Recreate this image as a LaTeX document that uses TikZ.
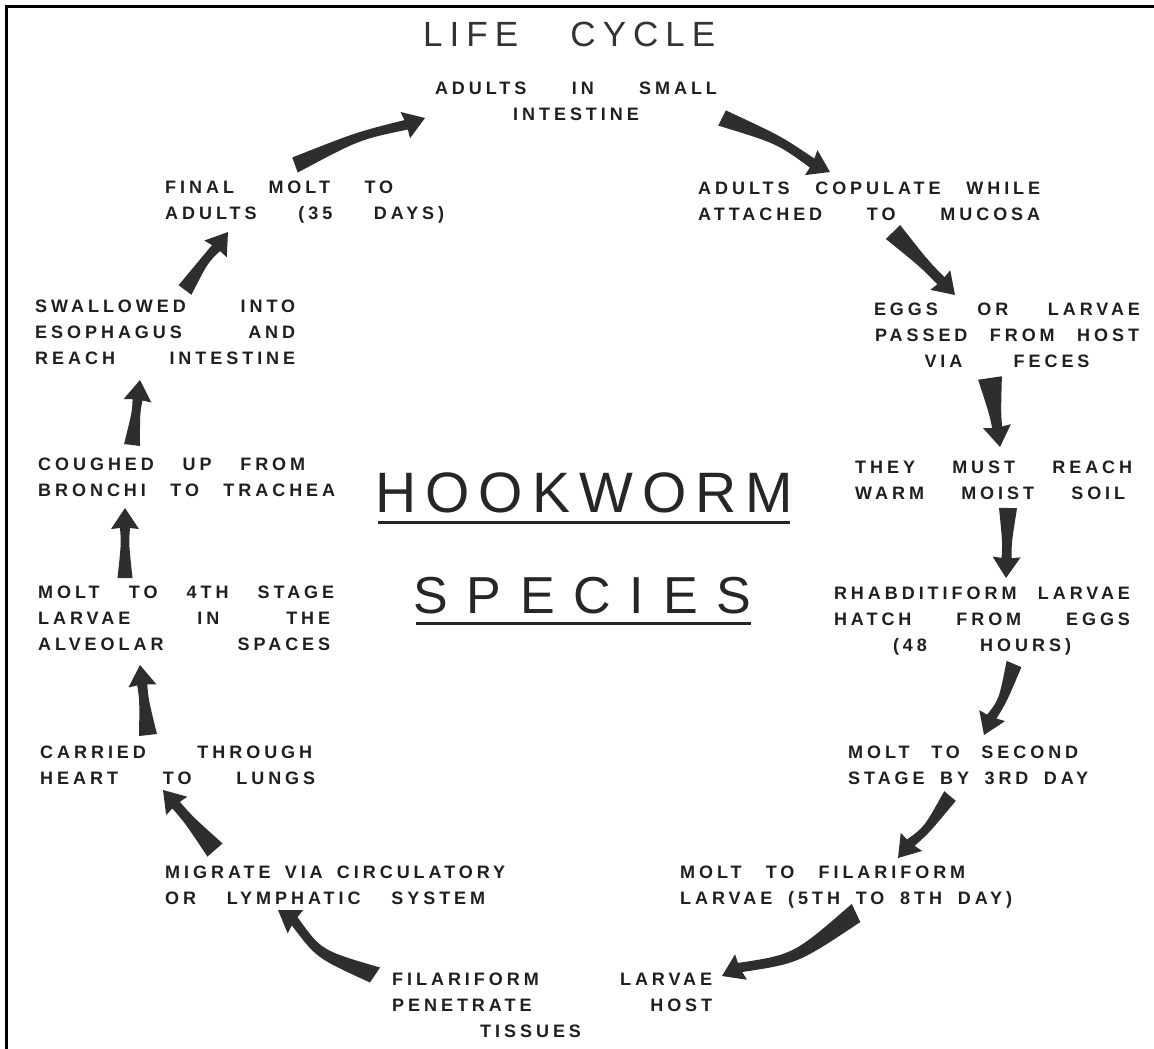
\documentclass[tikz,border=0pt]{standalone}
\usepackage{fontspec}
\setmainfont{Liberation Sans}
\newfontfamily\hand[LetterSpace=22]{Liberation Sans}
\newfontfamily\titlef[LetterSpace=20]{Liberation Sans}
\usetikzlibrary{calc}
\newcommand\jl[2]{\makebox[#1pt][s]{#2}}
\newcommand\harrow[4]{%
  \path let \p1=(#1),\p2=(#2) in \pgfextra{%
    \pgfmathsetmacro\tmpA{atan2(\y2-\y1,\x2-\x1)}%
    \pgfmathsetmacro\tmpL{veclen(\x2-\x1,\y2-\y1)}%
    \xdef\gAng{\tmpA}\xdef\gLen{\tmpL}};%
  \begin{scope}[shift={(#1)},rotate=\gAng]
    \fill[arrowfill] (0pt,{#3*0.5pt})
      .. controls ({\gLen*0.5pt},{#4*2pt+#3*0.25pt}) .. ({\gLen*1pt-20pt},5pt)
      -- ({\gLen*1pt-21pt},14pt) -- ({\gLen*1pt},0pt) -- ({\gLen*1pt-21pt},-14pt)
      -- ({\gLen*1pt-20pt},-5pt)
      .. controls ({\gLen*0.5pt},{#4*2pt-#3*0.25pt}) .. (0pt,{-#3*0.5pt}) -- cycle;
  \end{scope}}
\begin{document}
\begin{tikzpicture}[x=1pt,y=-1pt,
  lab/.style={inner sep=0pt, font=\hand\bfseries\fontsize{18}{26}\selectfont, text=black!88},
  arrowfill/.style={fill=black!82}]
\useasboundingbox (0,0) rectangle (1154,1049);
\fill[white] (0,0) rectangle (1154,1049);
\draw[line width=3pt] (6,1049) -- (6,7) -- (1154,7);

% titles
\node[anchor=north west, inner sep=0pt, font=\titlef\fontsize{35}{35}\selectfont, text=black!80] (title) at (423,22) {\makebox[292pt][s]{LIFE CYCLE}};
\node[anchor=north west, inner sep=0pt, font=\fontsize{57}{57}\selectfont, text=black!85] (hook) at (375,472) {\makebox[418pt]{H\hfill O\hfill O\hfill K\hfill W\hfill O\hfill R\hfill M}};
\node[anchor=north west, inner sep=0pt, font=\fontsize{52}{52}\selectfont, text=black!85] (spec) at (413,577) {\makebox[338pt]{S\hfill P\hfill E\hfill C\hfill I\hfill E\hfill S}};
\draw[line width=3pt, black!85] ([shift={(3,10)}]hook.south west) -- ([shift={(-3,10)}]hook.south east);
\draw[line width=3pt, black!85] ([shift={(3,9)}]spec.south west) -- ([shift={(0,9)}]spec.south east);

% labels
\node[lab, anchor=north, align=center] (adults) at (576,82) {\jl{282}{ADULTS IN SMALL}\\INTESTINE};
\node[lab, anchor=north west, align=left] (copul) at (698,182) {\jl{342}{ADULTS COPULATE WHILE}\\\jl{342}{ATTACHED TO MUCOSA}};
\node[lab, anchor=north, align=center] (eggs) at (1007,303) {\jl{266}{EGGS OR LARVAE}\\\jl{264}{PASSED FROM HOST}\\\jl{165}{VIA FECES}};
\node[lab, anchor=north west, align=left] (soil) at (855,461) {\jl{277}{THEY MUST REACH}\\\jl{270}{WARM MOIST SOIL}};
\node[lab, anchor=north, align=center] (rhab) at (982,587) {\jl{296}{RHABDITIFORM LARVAE}\\\jl{296}{HATCH FROM EGGS}\\\jl{178}{(48 HOURS)}};
\node[lab, anchor=north west, align=left] (second) at (848,746) {\jl{230}{MOLT TO SECOND}\\\jl{240}{STAGE BY 3RD DAY}};
\node[lab, anchor=north west, align=left] (filmolt) at (680,866) {\jl{285}{MOLT TO FILARIFORM}\\\jl{332}{LARVAE (5TH TO 8TH DAY)}};
\node[lab, anchor=north west, align=left] (pen) at (392,973) {\jl{320}{FILARIFORM LARVAE}\\\jl{320}{PENETRATE HOST}\\\hspace*{88pt}TISSUES};
\node[lab, anchor=north west, align=left] (migrate) at (165,866) {\jl{340}{MIGRATE VIA CIRCULATORY}\\\jl{320}{OR LYMPHATIC SYSTEM}};
\node[lab, anchor=north west, align=left] (carried) at (40,746) {\jl{272}{CARRIED THROUGH}\\\jl{275}{HEART TO LUNGS}};
\node[lab, anchor=north west, align=left] (fourth) at (38,586) {\jl{296}{MOLT TO 4TH STAGE}\\\jl{292}{LARVAE IN THE}\\\jl{292}{ALVEOLAR SPACES}};
\node[lab, anchor=north west, align=left] (cough) at (38,458) {\jl{267}{COUGHED UP FROM}\\\jl{297}{BRONCHI TO TRACHEA}};
\node[lab, anchor=north west, align=left] (swallow) at (35,300) {\jl{260}{SWALLOWED INTO}\\\jl{260}{ESOPHAGUS AND}\\\jl{260}{REACH INTESTINE}};
\node[lab, anchor=north west, align=left] (final) at (165,181) {\jl{228}{FINAL MOLT TO}\\\jl{279}{ADULTS (35 DAYS)}};

% arrow end points, relative to the nodes
\coordinate (t1) at ([shift={(130,-16)}]final.north west);
\coordinate (h1) at ([shift={(-151,36)}]adults.north);
\coordinate (t2) at ([shift={(146,36)}]adults.north);
\coordinate (h2) at ([shift={(132,-10)}]copul.north west);
\coordinate (t3) at ([shift={(195,50)}]copul.north west);
\coordinate (h3) at ([shift={(-52,-8)}]eggs.north);
\coordinate (t4) at ([shift={(-17,75)}]eggs.north);
\coordinate (h4) at ([shift={(145,-14)}]soil.north west);
\coordinate (t5) at ([shift={(153,47)}]soil.north west);
\coordinate (h5) at ([shift={(24,-9)}]rhab.north);
\coordinate (t6) at ([shift={(32,77)}]rhab.north);
\coordinate (h6) at ([shift={(136,-11)}]second.north west);
\coordinate (t7) at ([shift={(102,50)}]second.north west);
\coordinate (h7) at ([shift={(218,-8)}]filmolt.north west);
\coordinate (t8) at ([shift={(176,47)}]filmolt.north west);
\coordinate (h8) at ([shift={(330,3)}]pen.north west);
\coordinate (t9) at ([shift={(-17,2)}]pen.north west);
\coordinate (h9) at ([shift={(113,44)}]migrate.north west);
\coordinate (t10) at ([shift={(50,-16)}]migrate.north west);
\coordinate (h10) at ([shift={(123,44)}]carried.north west);
\coordinate (t11) at ([shift={(108,-11)}]carried.north west);
\coordinate (h11) at ([shift={(102,79)}]fourth.north west);
\coordinate (t12) at ([shift={(87,-8)}]fourth.north west);
\coordinate (h12) at ([shift={(87,50)}]cough.north west);
\coordinate (t13) at ([shift={(94,-13)}]cough.north west);
\coordinate (h13) at ([shift={(105,80)}]swallow.north west);
\coordinate (t14) at ([shift={(150,-10)}]swallow.north west);
\coordinate (h14) at ([shift={(63,51)}]final.north west);

\harrow{t1}{h1}{16}{3}
\harrow{t2}{h2}{17}{3}
\harrow{t3}{h3}{20}{0}
\harrow{t4}{h4}{24}{0}
\harrow{t5}{h5}{18}{0}
\harrow{t6}{h6}{16}{2}
\harrow{t7}{h7}{15}{2}
\harrow{t8}{h8}{20}{8}
\harrow{t9}{h9}{18}{7}
\harrow{t10}{h10}{20}{0}
\harrow{t11}{h11}{18}{0}
\harrow{t12}{h12}{15}{0}
\harrow{t13}{h13}{16}{0}
\harrow{t14}{h14}{16}{1}
\end{tikzpicture}
\end{document}
